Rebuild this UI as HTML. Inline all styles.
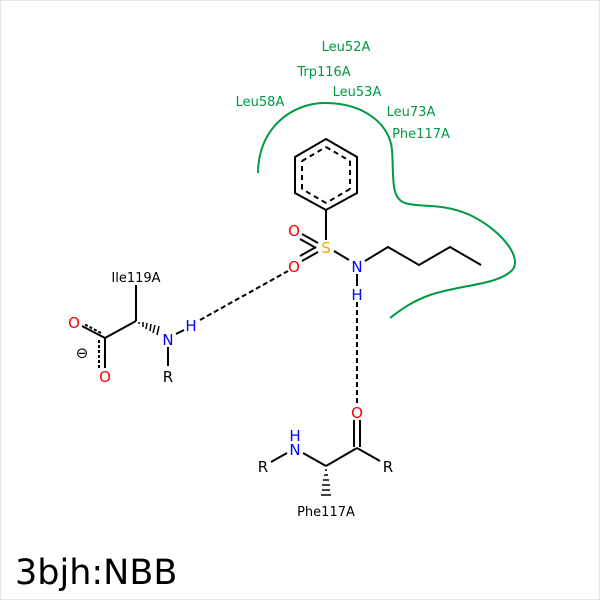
<!DOCTYPE html>
<html><head><style>
html,body{margin:0;padding:0;background:#fff;}
svg{display:block;}
text{font-family:"DejaVu Sans","Liberation Sans",sans-serif;}
</style></head><body>
<svg width="600" height="600" viewBox="0 0 600 600">
<rect x="0.5" y="0.5" width="599" height="599" fill="#fff" stroke="#e6e6e6"/>
<g font-size="13" fill="#009a44" text-anchor="middle">
<text x="346" y="51">Leu52A</text>
<text x="324" y="76">Trp116A</text>
<text x="357" y="96">Leu53A</text>
<text x="260" y="106">Leu58A</text>
<text x="411" y="116">Leu73A</text>
<text x="421" y="138">Phe117A</text>
</g>
<path d="M258,173 C258,130 290,103 325,103 C365,103 390,125 392,150 C394,175 390,198 405,203 C420,208 440,202 470,215 C505,232 525,262 510,272 C495,285 460,285 430,295 C410,302 398,312 390,318" fill="none" stroke="#009a44" stroke-width="2"/>
<g stroke="#000" stroke-width="2" fill="none">
<polygon points="326,139 357,157 357,193 326,210 295,193 295,157"/>
<path d="M326,147 L350,161 M350,189 L326,203 M302,189 L302,161 M350,161 L350,189 M326,203 L302,189 M302,161 L326,147" stroke-dasharray="5,4"/>
<line x1="326" y1="210" x2="326" y2="240"/>
<line x1="302" y1="234" x2="318" y2="243"/>
<line x1="300" y1="239" x2="316" y2="248"/>
<line x1="302" y1="261" x2="318" y2="252"/>
<line x1="300" y1="256" x2="316" y2="247"/>
<line x1="334" y1="251" x2="349" y2="260"/>
<polyline points="365,261 388,247 419,265 450,247 481,265"/>
<line x1="357" y1="274" x2="357" y2="286"/>
<line x1="357" y1="302" x2="357" y2="403" stroke-dasharray="5,3"/>
<line x1="200" y1="320" x2="288" y2="271" stroke-dasharray="5,3"/>
<line x1="354" y1="420" x2="354" y2="447"/>
<line x1="360" y1="420" x2="360" y2="447"/>
<line x1="357" y1="448" x2="380" y2="461"/>
<line x1="357" y1="448" x2="326" y2="466"/>
<line x1="326" y1="466" x2="303" y2="453"/>
<line x1="287" y1="453" x2="271" y2="462"/>
<line x1="136" y1="285" x2="136" y2="321"/>
<line x1="136" y1="321" x2="105" y2="338"/>
<line x1="105" y1="338" x2="82" y2="326"/>
<line x1="101" y1="333" x2="84" y2="324" stroke-dasharray="3,2"/>
<line x1="105" y1="338" x2="105" y2="368"/>
<line x1="99" y1="340" x2="99" y2="368" stroke-dasharray="3,2"/>
<line x1="168" y1="347" x2="168" y2="366"/>
<line x1="176" y1="334" x2="184" y2="330"/>
</g>
<g stroke="#000" stroke-width="1.5">
<line x1="139" y1="322" x2="139" y2="324"/><line x1="143" y1="322" x2="143" y2="327"/><line x1="147" y1="323" x2="146" y2="329"/><line x1="151" y1="324" x2="150" y2="331"/><line x1="155" y1="325" x2="153" y2="333"/><line x1="159" y1="326" x2="157" y2="335"/>
<line x1="325" y1="470" x2="327" y2="470"/><line x1="324" y1="475" x2="328" y2="475"/><line x1="323" y1="480" x2="329" y2="480"/><line x1="322" y1="485" x2="330" y2="485"/><line x1="322" y1="490" x2="330" y2="490"/><line x1="321" y1="495" x2="331" y2="495"/>
</g>
<g font-size="15" text-anchor="middle">
<text x="326" y="253" fill="#f5a800">S</text>
<text x="294" y="236" fill="#f00">O</text>
<text x="294" y="272" fill="#f00">O</text>
<text x="357" y="272" fill="#00f">N</text>
<text x="357" y="300" fill="#00f">H</text>
<text x="357" y="418" fill="#f00">O</text>
<text x="295" y="441" fill="#00f">H</text>
<text x="295" y="455" fill="#00f">N</text>
<text x="263" y="472" fill="#000">R</text>
<text x="388" y="472" fill="#000">R</text>
<text x="74" y="328" fill="#f00">O</text>
<text x="105" y="382" fill="#f00">O</text>
<text x="82" y="358" fill="#000">⊖</text>
<text x="168" y="345" fill="#00f">N</text>
<text x="191" y="331" fill="#00f">H</text>
<text x="168" y="382" fill="#000">R</text>
</g>
<g font-size="13" text-anchor="middle" fill="#000">
<text x="136" y="282">Ile119A</text>
<text x="326" y="516">Phe117A</text>
</g>
<text x="15" y="584" font-size="35" fill="#000">3bjh:NBB</text>
</svg>
</body></html>
